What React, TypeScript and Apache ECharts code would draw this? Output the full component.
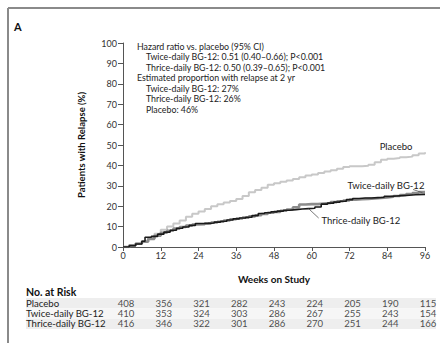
import React, { useEffect, useRef } from 'react';
import * as echarts from 'echarts';

const weekTicks = [0, 12, 24, 36, 48, 60, 72, 84, 96];

const placebo: [number, number][] = [
  [0, 0], [2, 0.8], [4, 1.8], [6, 3], [8, 4.5], [10, 6.5], [12, 8.5], [14, 10], [16, 11.5], [18, 13],
  [20, 14.8], [22, 16.3], [24, 17.4], [26, 18.6], [28, 20], [30, 21], [32, 21.8], [34, 22.6], [36, 23.5],
  [38, 25], [40, 26.8], [42, 28], [44, 29], [46, 30.5], [48, 31.3], [50, 32], [52, 32.6], [54, 33.3],
  [56, 34.2], [58, 35], [60, 35.6], [62, 36.3], [64, 37], [66, 37.6], [68, 38.4], [70, 39.2], [72, 39.6],
  [74, 39.6], [76, 39.8], [78, 40.3], [80, 41.5], [82, 42.8], [84, 43.3], [86, 43.6], [88, 44], [90, 44.3],
  [92, 45], [94, 45.8], [96, 46.5],
];

const twice: [number, number][] = [
  [0, 0], [2, 0.8], [4, 1.6], [6, 2.6], [8, 4], [10, 5.5], [12, 7], [14, 8], [16, 9], [18, 9.8], [20, 10.5],
  [22, 11], [24, 11.2], [26, 11.6], [28, 12], [30, 12.4], [32, 13], [34, 13.6], [36, 14], [38, 14.4],
  [40, 15], [42, 15.6], [44, 16.2], [46, 16.8], [48, 17.2], [50, 17.8], [52, 18.4], [54, 19.5], [56, 20.8],
  [58, 21], [60, 21], [62, 21.3], [64, 21.6], [66, 22], [68, 22.4], [70, 22.8], [72, 23.2], [74, 23.4],
  [76, 23.6], [78, 23.8], [80, 24], [82, 24.3], [84, 24.6], [86, 25], [88, 25.5], [90, 26], [92, 26.5],
  [94, 26.9], [96, 27.2],
];

const thrice: [number, number][] = [
  [0, 0], [2, 0.6], [4, 1.5], [6, 2.8], [7, 4.8], [9, 5.2], [11, 6.3], [13, 7.3], [15, 8.2], [17, 9.2],
  [19, 9.8], [21, 10.6], [23, 11.5], [25, 11.6], [27, 11.8], [29, 12.2], [31, 12.6], [33, 13.2], [35, 13.8],
  [37, 14.2], [39, 14.6], [41, 15.4], [43, 16.4], [45, 16.8], [47, 17.2], [49, 17.6], [51, 18], [53, 18.3],
  [55, 18.6], [57, 18.8], [59, 19], [61, 19.6], [63, 21], [65, 21.5], [67, 22], [69, 22.4], [71, 23.2],
  [73, 23.8], [75, 24], [77, 24], [79, 24.2], [81, 24.4], [83, 24.8], [85, 25], [87, 25.2], [89, 25.4],
  [91, 25.6], [93, 25.8], [96, 26],
];

const riskRows = ['Placebo', 'Twice-daily BG-12', 'Thrice-daily BG-12'];
const riskPlacebo = [408, 356, 321, 282, 243, 224, 205, 190, 115];
const riskTwice = [410, 353, 324, 303, 286, 267, 255, 243, 154];
const riskThrice = [416, 346, 322, 301, 286, 270, 251, 244, 166];

const infoLines: { text: string; indent: boolean }[] = [
  { text: 'Hazard ratio vs. placebo (95% CI)', indent: false },
  { text: 'Twice-daily BG-12: 0.51 (0.40\u20130.66); P<0.001', indent: true },
  { text: 'Thrice-daily BG-12: 0.50 (0.39\u20130.65); P<0.001', indent: true },
  { text: 'Estimated proportion with relapse at 2 yr', indent: false },
  { text: 'Twice-daily BG-12: 27%', indent: true },
  { text: 'Thrice-daily BG-12: 26%', indent: true },
  { text: 'Placebo: 46%', indent: true },
];

const FONT = 'Lato';

export default function App() {
  const ref = useRef<HTMLDivElement>(null);
  useEffect(() => {
    if (!ref.current) return;
    const chart = echarts.init(ref.current, undefined, { renderer: 'svg' });

    const gridLeft = 123;
    const gridRight = 15;
    const plotW = 440 - gridLeft - gridRight;
    const pxPerWeek = plotW / 96;
    const tLeft = 26;
    const tRight = 4;
    const tMin = -(gridLeft - tLeft) / pxPerWeek;
    const tMax = 96 + (gridRight - tRight) / pxPerWeek;

    const riskData: any[] = [];
    [riskPlacebo, riskTwice, riskThrice].forEach((arr, r) => {
      arr.forEach((v, i) => riskData.push([weekTicks[i], riskRows[r], v]));
    });

    const graphics: any[] = [
      { type: 'line', shape: { x1: 8, y1: 8, x2: 440, y2: 8 }, style: { stroke: '#8a8a8a', lineWidth: 2 } },
      { type: 'line', shape: { x1: 8, y1: 8, x2: 8, y2: 343 }, style: { stroke: '#8a8a8a', lineWidth: 2 } },
      { type: 'text', left: 14, top: 21, style: { text: 'A', font: `bold 11px ${FONT}`, fill: '#111' } },
      { type: 'text', left: 26, top: 286, style: { text: 'No. at Risk', font: `bold 10.5px ${FONT}`, fill: '#111' } },
    ];
    infoLines.forEach((l, i) => {
      graphics.push({
        type: 'text',
        x: l.indent ? 146 : 137,
        y: 46 + i * 10.5,
        style: { text: l.text, font: `8.8px ${FONT}`, fill: '#222', verticalAlign: 'middle', lineHeight: 9 },
      });
    });

    const option: any = {
      animation: false,
      textStyle: { fontFamily: FONT },
      graphic: graphics,
      grid: [
        { left: gridLeft, right: gridRight, top: 43, bottom: 96 },
        { left: tLeft, right: tRight, top: 298, height: 31 },
      ],
      xAxis: [
        {
          type: 'value', gridIndex: 0, min: 0, max: 96, interval: 12,
          name: 'Weeks on Study', nameLocation: 'middle', nameGap: 27,
          nameTextStyle: { fontWeight: 'bold', fontSize: 10, color: '#111', fontFamily: FONT },
          axisLine: { lineStyle: { color: '#555', width: 1 } },
          axisTick: { show: true, length: 4, lineStyle: { color: '#555' } },
          axisLabel: { fontSize: 9, color: '#333', margin: 4, fontFamily: FONT },
          splitLine: { show: false },
        },
        {
          type: 'value', gridIndex: 1, min: tMin, max: tMax, show: false,
        },
      ],
      yAxis: [
        {
          type: 'value', gridIndex: 0, min: 0, max: 100, interval: 10,
          name: 'Patients with Relapse (%)', nameLocation: 'middle', nameGap: 37, nameRotate: 90,
          nameTextStyle: { fontWeight: 'bold', fontSize: 9.5, color: '#111', fontFamily: FONT },
          axisLine: { show: true, lineStyle: { color: '#555', width: 1 } },
          axisTick: { show: true, inside: false, length: 5, lineStyle: { color: '#555' } },
          axisLabel: { fontSize: 9, color: '#333', margin: 6, fontFamily: FONT },
          splitLine: { show: false },
        },
        {
          type: 'category', gridIndex: 1, data: riskRows, inverse: true,
          axisLine: { show: false }, axisTick: { show: false },
          axisLabel: { inside: true, interval: 0, margin: 0, fontSize: 9.6, lineHeight: 9, color: '#222', fontFamily: FONT },
          splitArea: { show: true, interval: 0, areaStyle: { color: ['#eeeeee', '#f6f6f6'] } },
          splitLine: { show: false },
        },
      ],
      series: [
        {
          type: 'line', name: 'Placebo', data: placebo, step: 'end', showSymbol: false,
          lineStyle: { color: '#c8c8c8', width: 2 }, z: 2,
          markPoint: {
            symbolSize: 0,
            label: { show: true, position: 'inside', color: '#222', fontSize: 9.5, fontFamily: FONT },
            data: [{ coord: [86.8, 49.3], value: 'Placebo', label: { formatter: 'Placebo' } }],
          },
        },
        {
          type: 'line', name: 'Twice-daily BG-12', data: twice, step: 'end', showSymbol: false,
          lineStyle: { color: '#8c8c8c', width: 2.6 }, z: 3,
          markPoint: {
            symbolSize: 0,
            label: { show: true, position: 'inside', color: '#222', fontSize: 9.5, fontFamily: FONT },
            data: [{ coord: [83.6, 30], value: 1, label: { formatter: 'Twice-daily BG-12' } }],
          },
          markLine: {
            symbol: 'none', silent: true, label: { show: false },
            lineStyle: { color: '#555', width: 0.8, type: 'solid' },
            data: [[{ coord: [92.2, 28.2] }, { coord: [95.2, 26.6] }]],
          },
        },
        {
          type: 'line', name: 'Thrice-daily BG-12', data: thrice, step: 'end', showSymbol: false,
          lineStyle: { color: '#1a1a1a', width: 1.6 }, z: 4,
          markPoint: {
            symbolSize: 0,
            label: { show: true, position: 'inside', color: '#222', fontSize: 9.5, fontFamily: FONT },
            data: [{ coord: [75.6, 12.8], value: 1, label: { formatter: 'Thrice-daily BG-12' } }],
          },
          markLine: {
            symbol: 'none', silent: true, label: { show: false },
            lineStyle: { color: '#555', width: 0.8, type: 'solid' },
            data: [[{ coord: [62.2, 14.2] }, { coord: [59.0, 18.8] }]],
          },
        },
        {
          type: 'scatter', xAxisIndex: 1, yAxisIndex: 1, data: riskData, symbolSize: 0,
          encode: { x: 0, y: 1 },
          label: {
            show: true, position: 'inside', offset: [3, 0], fontSize: 9.6, lineHeight: 9, color: '#222', fontFamily: FONT,
            formatter: (p: any) => String(p.value[2]),
          },
        },
      ],
    };
    chart.setOption(option);
    return () => chart.dispose();
  }, []);
  return <div ref={ref} style={{ position: 'absolute', left: 0, top: 0, width: 440, height: 343 }} />;
}
